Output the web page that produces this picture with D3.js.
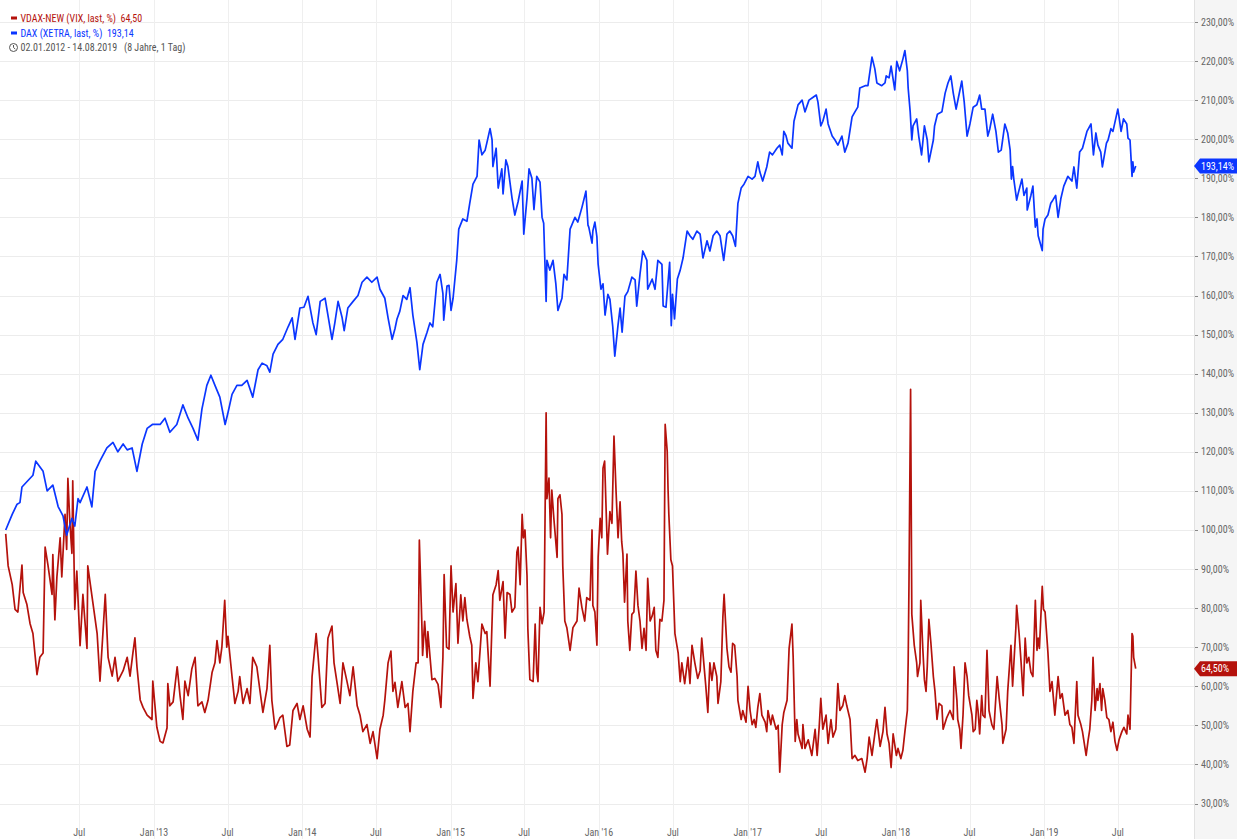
<!DOCTYPE html>
<html>
<head>
<meta charset="utf-8">
<script src="https://cdn.jsdelivr.net/npm/d3@7"></script>
<style>
    body { margin: 0; background: #fff; }
    svg { display: block; }
    text { font-family: 'Liberation Sans Narrow', 'Roboto Condensed', 'DejaVu Sans Condensed', 'Arial Narrow', Roboto, sans-serif; font-stretch: condensed; }
</style>
</head>
<body>
<div id="chart"></div>
<script>
// Series names and last values (legend)
const seriesNames = ["VDAX-NEW (VIX, last, %)", "DAX (XETRA, last, %)"];
const lastLabels = ["64,50", "193,14"];
const rangeLabel = "02.01.2012 - 14.08.2019   (8 Jahre, 1 Tag)";

// Right axis ticks (%)
const yTicks = [30, 40, 50, 60, 70, 80, 90, 100, 110, 120, 130, 140, 150, 160, 170, 180, 190, 200, 210, 220, 230];

// Bottom axis ticks
const xTicks = ["2012-07-01", "2013-01-01", "2013-07-01", "2014-01-01", "2014-07-01", "2015-01-01", "2015-07-01",
    "2016-01-01", "2016-07-01", "2017-01-01", "2017-07-01", "2018-01-01", "2018-07-01", "2019-01-01", "2019-07-01"];

// DAX (XETRA), % of 02.01.2012
const dax = [
    ["2012-01-02",100],["2012-01-18",104],["2012-01-30",106.6],["2012-02-06",107],["2012-02-11",111],["2012-03-09",114],["2012-03-16",117.6],["2012-04-03",115],["2012-04-13",110],["2012-04-27",111.5],
    ["2012-05-10",106],["2012-05-22",103.6],["2012-05-31",98.7],["2012-06-13",103],["2012-06-20",101],["2012-06-28",108],["2012-07-03",107],["2012-07-20",111],["2012-08-01",105.9],["2012-08-09",115],
    ["2012-08-21",117.7],["2012-09-07",121],["2012-09-22",122.4],["2012-10-04",120],["2012-10-17",122],["2012-10-27",120.5],["2012-11-08",121],["2012-11-20",115],["2012-12-03",122],["2012-12-15",126],
    ["2012-12-28",127],["2013-01-16",127],["2013-01-28",128.6],["2013-02-09",125],["2013-02-26",127],["2013-03-13",132],["2013-03-26",128.6],["2013-04-07",126],["2013-04-19",123],["2013-04-29",131],
    ["2013-05-11",137],["2013-05-21",139.6],["2013-05-31",137],["2013-06-12",134],["2013-06-25",127],["2013-07-02",130],["2013-07-12",134.7],["2013-07-24",137],["2013-08-05",137],["2013-08-18",138.3],
    ["2013-09-01",134],["2013-09-14",141],["2013-09-24",142.7],["2013-10-06",142],["2013-10-13",140.4],["2013-10-21",145],["2013-11-02",147.5],["2013-11-14",148.8],["2013-11-27",152],["2013-12-07",154.3],
    ["2013-12-14",148.8],["2013-12-26",156.8],["2014-01-05",157],["2014-01-15",159.8],["2014-01-27",153],["2014-02-04",150],["2014-02-14",158.5],["2014-02-26",159.3],["2014-03-05",155],["2014-03-15",148.8],
    ["2014-03-22",153],["2014-03-30",158.5],["2014-04-09",154.3],["2014-04-14",151],["2014-04-23",156.8],["2014-05-06",158.5],["2014-05-18",160],["2014-05-28",163.4],["2014-06-09",164.7],["2014-06-21",163.4],
    ["2014-07-04",164.7],["2014-07-11",161.6],["2014-07-23",159.3],["2014-07-31",154.3],["2014-08-10",148.8],["2014-08-17",151.5],["2014-08-22",154],["2014-08-29",156],["2014-09-06",160],["2014-09-15",159],
    ["2014-09-23",162],["2014-09-30",155],["2014-10-10",148],["2014-10-17",141],["2014-10-25",147.5],["2014-11-04",150.6],["2014-11-11",153],["2014-11-18",152],["2014-11-28",163.4],["2014-12-06",165.4],
    ["2014-12-13",160.5],["2014-12-15",153.7],["2014-12-23",162.4],["2014-12-28",162.6],["2015-01-02",156.2],["2015-01-07",159.3],["2015-01-16",169],["2015-01-21",177],["2015-01-31",179.6],["2015-02-10",179],
    ["2015-02-17",183.6],["2015-02-25",188.5],["2015-03-07",190.5],["2015-03-12",199.8],["2015-03-19",196],["2015-03-27",197.2],["2015-03-31",199],["2015-04-08",202.7],["2015-04-13",199.8],["2015-04-15",193],
    ["2015-04-23",197.7],["2015-04-28",187.5],["2015-05-07",192.4],["2015-05-10",186],["2015-05-17",194.7],["2015-05-22",193],["2015-06-01",185],["2015-06-08",180.6],["2015-06-16",184],["2015-06-26",189.3],
    ["2015-06-30",175.7],["2015-07-08",185],["2015-07-13",192.4],["2015-07-20",190],["2015-07-25",182],["2015-08-01",190.5],["2015-08-09",189],["2015-08-14",180],["2015-08-18",178.5],["2015-08-24",158.5],
    ["2015-08-26",169],["2015-09-02",166.5],["2015-09-10",169],["2015-09-17",162.9],["2015-09-22",156.2],["2015-10-02",159.3],["2015-10-07",165.4],["2015-10-14",164],["2015-10-22",177],["2015-11-03",180],
    ["2015-11-10",178.8],["2015-11-20",182.5],["2015-11-30",186.7],["2015-12-05",178],["2015-12-07",177.5],["2015-12-15",173.4],["2015-12-17",176.5],["2015-12-22",178.8],["2015-12-27",175],["2015-12-30",168],
    ["2016-01-06",161.6],["2016-01-11",163],["2016-01-16",155],["2016-01-23",160.3],["2016-01-28",159],["2016-02-04",152],["2016-02-09",144.5],["2016-02-17",152.5],["2016-02-22",156.8],["2016-02-27",150.6],
    ["2016-03-05",159.8],["2016-03-12",161],["2016-03-22",164.7],["2016-03-30",164],["2016-04-03",157.3],["2016-04-11",165.4],["2016-04-18",171.4],["2016-04-28",169],["2016-04-30",161.6],["2016-05-11",164.2],
    ["2016-05-18",161.6],["2016-05-25",169],["2016-06-04",168],["2016-06-07",157.3],["2016-06-14",157],["2016-06-23",168.5],["2016-06-27",152.3],["2016-06-30",160.3],["2016-07-05",154],["2016-07-12",164.2],
    ["2016-07-19",166.5],["2016-07-26",169.6],["2016-08-05",176.5],["2016-08-12",175.3],["2016-08-19",174.4],["2016-08-29",176.5],["2016-09-06",175.7],["2016-09-13",169.6],["2016-09-23",174],["2016-09-30",171.4],
    ["2016-10-08",175.3],["2016-10-17",176.5],["2016-10-25",175.3],["2016-11-03",169],["2016-11-11",175.7],["2016-11-18",176.5],["2016-11-25",175.3],["2016-12-02",172.6],["2016-12-08",183.6],["2016-12-16",187.5],
    ["2016-12-23",188.5],["2017-01-02",190.5],["2017-01-12",189.8],["2017-01-19",190.5],["2017-01-26",194.2],["2017-01-31",191.6],["2017-02-07",189.3],["2017-02-17",192.9],["2017-02-24",196.7],["2017-03-03",196],
    ["2017-03-14",197.7],["2017-03-21",198.5],["2017-03-27",196],["2017-03-31",202],["2017-04-05",201],["2017-04-10",199],["2017-04-20",197.7],["2017-04-25",204.6],["2017-05-05",208.8],["2017-05-15",210],
    ["2017-05-22",207],["2017-06-01",210],["2017-06-12",210.8],["2017-06-19",211.3],["2017-06-23",209.5],["2017-06-30",203.4],["2017-07-05",204.6],["2017-07-13",207.7],["2017-07-18",203.9],["2017-07-28",200.8],
    ["2017-08-04",199.8],["2017-08-11",198.5],["2017-08-21",200.8],["2017-08-28",196.7],["2017-09-05",199],["2017-09-15",205.7],["2017-09-22",207],["2017-09-29",208.2],["2017-10-04",213.1],["2017-10-17",213.7],
    ["2017-10-24",213.7],["2017-11-03",221],["2017-11-10",218],["2017-11-15",214.4],["2017-11-27",213.7],["2017-12-05",214.4],["2017-12-08",216.2],["2017-12-15",215.7],["2017-12-20",218.7],["2017-12-29",212.6],
    ["2018-01-03",219.9],["2018-01-10",217.5],["2018-01-18",220.5],["2018-01-23",222.7],["2018-01-29",217.5],["2018-01-31",213.1],["2018-02-05",207],["2018-02-09",199.8],["2018-02-12",203.4],["2018-02-21",205.2],
    ["2018-02-26",200.8],["2018-03-05",196],["2018-03-12",203.4],["2018-03-19",199.8],["2018-03-23",194.2],["2018-04-03",199.8],["2018-04-06",203.4],["2018-04-13",206.4],["2018-04-24",207],["2018-05-02",211.8],
    ["2018-05-09",214.4],["2018-05-16",216.2],["2018-05-22",211.8],["2018-05-29",207.7],["2018-06-04",210.8],["2018-06-12",214.9],["2018-06-18",209.5],["2018-06-25",200.8],["2018-07-02",203.9],["2018-07-10",208.2],
    ["2018-07-19",208.8],["2018-07-26",211.3],["2018-07-31",207.7],["2018-08-08",207.7],["2018-08-15",200.8],["2018-08-20",202.7],["2018-08-27",206.4],["2018-09-04",202],["2018-09-10",196.7],["2018-09-17",197.2],
    ["2018-09-26",203.9],["2018-10-03",201.6],["2018-10-09",197.2],["2018-10-12",189.8],["2018-10-15",193],["2018-10-18",189.8],["2018-10-25",184.4],["2018-10-29",186.2],["2018-11-07",189.8],["2018-11-12",185.6],
    ["2018-11-19",187.5],["2018-11-20",181.9],["2018-11-29",185.6],["2018-12-04",188],["2018-12-10",177.5],["2018-12-14",179.6],["2018-12-17",175.3],["2018-12-27",171.5],["2018-12-29",177],["2019-01-03",179.6],
    ["2019-01-10",180.6],["2019-01-17",183.6],["2019-01-22",184.4],["2019-01-29",185.6],["2019-02-04",180],["2019-02-11",184.9],["2019-02-18",188],["2019-02-28",190.5],["2019-03-10",189.3],["2019-03-15",192.9],
    ["2019-03-22",187.5],["2019-03-29",196.7],["2019-04-05",197.7],["2019-04-16",202],["2019-04-26",203.9],["2019-05-02",196],["2019-05-08",201.6],["2019-05-13",198.5],["2019-05-20",196.7],["2019-05-24",192.9],
    ["2019-06-03",199],["2019-06-07",199.8],["2019-06-14",202.7],["2019-06-19",202],["2019-07-01",207.7],["2019-07-04",205.7],["2019-07-09",202],["2019-07-15",205.2],["2019-07-23",203.9],["2019-07-26",200.3],
    ["2019-07-31",199.8],["2019-08-05",190.5],["2019-08-07",194.2],["2019-08-09",191.6],["2019-08-14",193.14]
];

// VDAX-NEW, % of 02.01.2012
const vdax = [
    ["2012-01-02",99],["2012-01-08",90.8],["2012-01-18",86],["2012-01-25",79.7],["2012-02-01",79],["2012-02-11",91],["2012-02-14",84],["2012-02-23",81],["2012-03-02",76],["2012-03-09",73.5],
    ["2012-03-19",63],["2012-03-26",67.4],["2012-04-03",68.5],["2012-04-08",95.6],["2012-04-15",91],["2012-04-25",83.5],["2012-04-27",93.7],["2012-05-02",77],["2012-05-07",88],["2012-05-15",98],
    ["2012-05-19",88],["2012-05-27",104],["2012-05-31",95],["2012-06-03",113.2],["2012-06-08",101.7],["2012-06-13",94],["2012-06-15",112.6],["2012-06-20",79.7],["2012-06-25",89.5],["2012-07-03",70.4],
    ["2012-07-10",83.5],["2012-07-20",69.7],["2012-07-22",90.8],["2012-08-04",81],["2012-08-14",73.5],["2012-08-21",61.3],["2012-09-03",83.5],["2012-09-10",67.4],["2012-09-20",62.6],["2012-09-27",67.4],
    ["2012-10-04",61.3],["2012-10-17",64],["2012-10-27",67.4],["2012-11-03",62.6],["2012-11-10",68.5],["2012-11-15",72.4],["2012-11-20",65],["2012-11-28",56.5],["2012-12-05",54.6],["2012-12-15",52.6],
    ["2012-12-27",51.5],["2012-12-29",61.3],["2013-01-08",49.5],["2013-01-16",45.9],["2013-01-23",45.5],["2013-02-02",49.3],["2013-02-04",60.7],["2013-02-09",55],["2013-02-17",56],["2013-02-27",65],
    ["2013-03-06",57.6],["2013-03-13",51.5],["2013-03-18",61.3],["2013-03-26",57.6],["2013-04-04",64.4],["2013-04-12",67.4],["2013-04-19",55],["2013-04-29",56],["2013-05-06",53.3],["2013-05-14",56.4],
    ["2013-05-24",63.6],["2013-05-31",66],["2013-06-05",71.7],["2013-06-12",66],["2013-06-17",70],["2013-06-24",82],["2013-06-29",70],["2013-07-02",72.8],["2013-07-12",62.5],["2013-07-19",55.6],
    ["2013-07-27",58.7],["2013-07-31",62.5],["2013-08-08",55.6],["2013-08-18",59.4],["2013-08-25",55.6],["2013-09-01",67.4],["2013-09-11",65],["2013-09-19",58.7],["2013-09-26",53.3],["2013-10-06",59.4],
    ["2013-10-13",70.5],["2013-10-18",56.4],["2013-10-26",49],["2013-11-07",52],["2013-11-14",52.6],["2013-11-24",44.6],["2013-12-01",45],["2013-12-09",53.8],["2013-12-19",55.6],["2013-12-26",51.5],
    ["2014-01-03",55],["2014-01-13",49],["2014-01-20",47],["2014-01-25",62.5],["2014-02-04",73.5],["2014-02-09",67.4],["2014-02-18",54.6],["2014-02-26",55.6],["2014-03-05",72.3],["2014-03-15",75.4],
    ["2014-03-20",66],["2014-03-27",61.2],["2014-04-04",55.6],["2014-04-11",66],["2014-04-21",61.2],["2014-04-28",57.6],["2014-05-06",65],["2014-05-16",55],["2014-05-23",52.6],["2014-05-30",48.4],
    ["2014-06-09",50.2],["2014-06-17",45.4],["2014-06-24",48.4],["2014-07-04",41.5],["2014-07-11",49],["2014-07-19",52.6],["2014-07-23",56.4],["2014-07-31",66],["2014-08-07",69],["2014-08-12",58.7],
    ["2014-08-17",61],["2014-08-24",54.6],["2014-09-03",61.2],["2014-09-11",54.6],["2014-09-18",55.6],["2014-09-23",48.4],["2014-09-30",58.7],["2014-10-08",66],["2014-10-13",66],["2014-10-16",97.4],
    ["2014-10-22",76.6],["2014-10-24",67.9],["2014-10-29",76.6],["2014-11-04",67.4],["2014-11-06",74],["2014-11-16",61.7],["2014-11-23",62],["2014-12-01",60.5],["2014-12-08",54.6],["2014-12-13",67.4],
    ["2014-12-16",88.6],["2014-12-22",70],["2014-12-28",69.5],["2015-01-02",90.8],["2015-01-07",79],["2015-01-14",86.3],["2015-01-19",71],["2015-01-26",83.4],["2015-01-31",76.7],["2015-02-05",82.7],
    ["2015-02-10",77.1],["2015-02-17",72.8],["2015-02-22",70.5],["2015-02-25",56.9],["2015-03-04",66],["2015-03-09",61.2],["2015-03-19",75.9],["2015-03-27",73.5],["2015-03-31",74],["2015-04-08",60],
    ["2015-04-15",83.4],["2015-04-23",86],["2015-04-28",89.6],["2015-05-02",82],["2015-05-10",86.8],["2015-05-15",72.3],["2015-05-20",84],["2015-05-27",83.5],["2015-06-01",79],["2015-06-08",80.2],
    ["2015-06-13",94.3],["2015-06-16",95.6],["2015-06-21",86],["2015-06-26",104],["2015-06-29",98],["2015-07-03",100],["2015-07-08",88.2],["2015-07-10",74.8],["2015-07-15",61.7],["2015-07-23",61.2],
    ["2015-07-28",75.9],["2015-08-01",63.6],["2015-08-04",61.2],["2015-08-09",80.2],["2015-08-14",76],["2015-08-19",79],["2015-08-24",130],["2015-08-25",117.8],["2015-08-26",108],["2015-08-31",113.3],
    ["2015-09-04",98],["2015-09-07",110.2],["2015-09-12",103],["2015-09-20",93],["2015-09-22",108],["2015-09-27",109],["2015-10-02",104],["2015-10-04",90.8],["2015-10-09",76.7],["2015-10-14",75],
    ["2015-10-22",69.2],["2015-10-29",75],["2015-11-08",76.7],["2015-11-13",85.1],["2015-11-20",80.2],["2015-11-27",76.7],["2015-12-02",82.7],["2015-12-10",82],["2015-12-15",100],["2015-12-17",80.7],
    ["2015-12-22",79],["2015-12-27",70.5],["2015-12-30",93],["2016-01-04",103],["2016-01-08",98],["2016-01-11",115.8],["2016-01-15",117.6],["2016-01-21",97.4],["2016-01-22",93.8],["2016-01-28",104.7],
    ["2016-02-02",101.7],["2016-02-07",124],["2016-02-12",110.2],["2016-02-17",98],["2016-02-22",107.2],["2016-02-26",97],["2016-02-29",93.8],["2016-03-04",81.5],["2016-03-10",93.8],["2016-03-12",76.7],
    ["2016-03-17",69.2],["2016-03-22",78.4],["2016-03-27",79],["2016-04-01",89.5],["2016-04-06",80.7],["2016-04-11",76.7],["2016-04-16",69.7],["2016-04-21",74.8],["2016-04-26",69.2],["2016-04-30",87.6],
    ["2016-05-06",76.7],["2016-05-11",78],["2016-05-16",80.2],["2016-05-20",69.2],["2016-05-25",67.4],["2016-05-30",77.1],["2016-06-04",76.7],["2016-06-09",82],["2016-06-12",127],["2016-06-17",120.1],
    ["2016-06-19",110.7],["2016-06-21",104],["2016-06-26",92.4],["2016-06-30",90.8],["2016-07-06",73.5],["2016-07-14",68.5],["2016-07-19",61.2],["2016-07-23",66],["2016-07-30",60.7],["2016-08-07",67.4],
    ["2016-08-12",60.7],["2016-08-17",70.5],["2016-08-24",66],["2016-08-31",62],["2016-09-06",64],["2016-09-10",72.3],["2016-09-15",66],["2016-09-20",60],["2016-09-25",53.3],["2016-09-30",66],
    ["2016-10-05",61.5],["2016-10-10",66],["2016-10-17",62.5],["2016-10-20",55.6],["2016-10-27",61.2],["2016-11-01",77.7],["2016-11-04",83.5],["2016-11-11",69.7],["2016-11-16",65],["2016-11-21",63.6],
    ["2016-11-25",71],["2016-11-30",70.5],["2016-12-06",62.5],["2016-12-08",56.4],["2016-12-16",51.5],["2016-12-20",53.8],["2016-12-28",50.8],["2017-01-02",60],["2017-01-07",53.8],["2017-01-12",50.2],
    ["2017-01-17",51.5],["2017-01-21",49.5],["2017-01-26",54.6],["2017-01-31",58.1],["2017-02-05",52.6],["2017-02-13",50.8],["2017-02-17",48.4],["2017-02-20",53.8],["2017-02-27",50.2],["2017-03-03",52.6],
    ["2017-03-12",49],["2017-03-17",50],["2017-03-21",38],["2017-03-27",50.2],["2017-03-31",53.3],["2017-04-08",56.4],["2017-04-13",69.7],["2017-04-20",75.9],["2017-04-23",67.4],["2017-04-28",45.9],
    ["2017-05-02",51.5],["2017-05-05",47.8],["2017-05-15",44.1],["2017-05-17",50.2],["2017-05-22",44.1],["2017-05-30",46.3],["2017-06-08",42.3],["2017-06-16",49],["2017-06-21",42.3],["2017-06-26",49.5],
    ["2017-06-30",56.9],["2017-07-05",49],["2017-07-13",52.6],["2017-07-18",45.4],["2017-07-25",51.5],["2017-07-30",47],["2017-08-06",49],["2017-08-11",60.7],["2017-08-16",53.8],["2017-08-23",55],
    ["2017-08-28",57.6],["2017-09-02",55],["2017-09-10",51.5],["2017-09-15",41.5],["2017-09-22",42.3],["2017-09-29",41],["2017-10-09",41.5],["2017-10-17",38],["2017-10-22",41.5],["2017-10-27",47],
    ["2017-11-03",42.3],["2017-11-10",47.8],["2017-11-15",51.5],["2017-11-23",44.6],["2017-11-30",48.4],["2017-12-05",54.6],["2017-12-10",47.8],["2017-12-15",45.4],["2017-12-20",39.2],["2017-12-25",47.8],
    ["2018-01-02",42.3],["2018-01-06",44.1],["2018-01-13",41.5],["2018-01-18",43.6],["2018-01-23",48.4],["2018-01-29",53.8],["2018-01-31",66],["2018-02-02",86],["2018-02-06",136],["2018-02-09",78.4],
    ["2018-02-15",70.5],["2018-02-21",66],["2018-02-23",62.5],["2018-03-01",66],["2018-03-03",82],["2018-03-08",69.7],["2018-03-12",61.7],["2018-03-16",58.7],["2018-03-19",65],["2018-03-23",77.1],
    ["2018-03-28",71],["2018-04-03",62.5],["2018-04-07",58.7],["2018-04-12",51.5],["2018-04-17",55.6],["2018-04-24",55],["2018-04-27",49],["2018-05-06",52],["2018-05-14",53.8],["2018-05-22",51.5],
    ["2018-05-24",65],["2018-05-31",56.4],["2018-06-02",51.5],["2018-06-07",49],["2018-06-10",44.1],["2018-06-15",52.6],["2018-06-20",66],["2018-06-25",62.5],["2018-06-29",57.6],["2018-07-07",52.6],
    ["2018-07-10",48.4],["2018-07-15",49],["2018-07-19",56.4],["2018-07-22",53.8],["2018-07-26",47.8],["2018-07-31",57.6],["2018-08-03",52.6],["2018-08-08",52],["2018-08-13",69.2],["2018-08-18",53.8],
    ["2018-08-25",50.2],["2018-08-30",49],["2018-09-07",62.5],["2018-09-12",56.9],["2018-09-19",50.2],["2018-09-21",45.4],["2018-09-29",49],["2018-10-03",58.7],["2018-10-11",70.5],["2018-10-15",60],
    ["2018-10-23",74.8],["2018-10-25",80.7],["2018-10-31",73.5],["2018-11-05",66],["2018-11-10",57.6],["2018-11-15",72.3],["2018-11-19",66],["2018-11-24",67.4],["2018-11-29",63.6],["2018-12-04",62.5],
    ["2018-12-10",82],["2018-12-14",69.2],["2018-12-17",72.3],["2018-12-20",69.7],["2018-12-27",85.6],["2018-12-30",79.7],["2019-01-03",79],["2019-01-10",68.6],["2019-01-15",58.7],["2019-01-20",61.2],
    ["2019-01-27",52.6],["2019-02-04",62.5],["2019-02-09",56.9],["2019-02-14",58.1],["2019-02-21",52.6],["2019-02-28",53.8],["2019-03-05",50.2],["2019-03-10",49.5],["2019-03-15",45.4],["2019-03-22",61.2],
    ["2019-03-25",52.6],["2019-04-01",50.2],["2019-04-05",48.4],["2019-04-14",42.3],["2019-04-19",46.3],["2019-04-23",49],["2019-04-28",56.4],["2019-05-01",67.4],["2019-05-06",53.8],["2019-05-11",59.4],
    ["2019-05-13",56.4],["2019-05-18",60.7],["2019-05-22",53.8],["2019-05-25",59.4],["2019-05-30",56.4],["2019-06-04",52],["2019-06-09",51.5],["2019-06-14",48.4],["2019-06-19",50.8],["2019-06-24",45.9],
    ["2019-06-29",43.6],["2019-07-04",46.3],["2019-07-11",48.4],["2019-07-16",49.5],["2019-07-23",47.8],["2019-07-26",52.6],["2019-07-31",49],["2019-08-05",73.5],["2019-08-07",72.8],["2019-08-09",67.4],
    ["2019-08-14",64.5]
];

const colors = { vdax: "#b5120c", dax: "#0b36ff" };

const width = 1237, height = 839;
const plotRight = 1194;

const parseDate = d3.timeParse("%Y-%m-%d");
const daxData = dax.map(d => ({ date: parseDate(d[0]), value: d[1] }));
const vdaxData = vdax.map(d => ({ date: parseDate(d[0]), value: d[1] }));

// Scales
const x = d3.scaleTime()
    .domain([parseDate("2012-01-01"), parseDate("2019-08-14")])
    .range([5.3, 1135.7]);
const y = d3.scaleLinear().domain([30, 230]).range([803.5, 22]);

const svg = d3.select("#chart")
    .append("svg")
    .attr("width", width)
    .attr("height", height);

// Horizontal grid
svg.append("g")
    .selectAll("line")
    .data(yTicks)
    .enter().append("line")
    .attr("x1", 0)
    .attr("x2", plotRight)
    .attr("y1", d => Math.round(y(d)) + 0.5)
    .attr("y2", d => Math.round(y(d)) + 0.5)
    .attr("stroke", "#ececec");

// Vertical grid
svg.append("g")
    .selectAll("line")
    .data(xTicks.map(parseDate))
    .enter().append("line")
    .attr("x1", d => Math.round(x(d)) + 0.5)
    .attr("x2", d => Math.round(x(d)) + 0.5)
    .attr("y1", 0)
    .attr("y2", height)
    .attr("stroke", "#efefef");

// Bottom labels
const fmtJan = d3.timeFormat("Jan '%y");
svg.append("g")
    .selectAll("text")
    .data(xTicks.map(parseDate))
    .enter().append("text")
    .attr("x", d => x(d))
    .attr("y", 836)
    .attr("text-anchor", "middle")
    .attr("fill", "#666")
    .style("font-size", "10px")
    .text(d => d.getMonth() === 0 ? fmtJan(d) : "Jul");

// Right axis panel
svg.append("rect")
    .attr("x", plotRight)
    .attr("y", 0)
    .attr("width", width - plotRight)
    .attr("height", height)
    .attr("fill", "#f5f5f5");
svg.append("line")
    .attr("x1", plotRight + 0.5)
    .attr("x2", plotRight + 0.5)
    .attr("y1", 0)
    .attr("y2", height)
    .attr("stroke", "#e2e2e2");

const pct = d3.formatLocale({ decimal: ",", thousands: ".", grouping: [3], currency: ["", "€"] }).format(".2f");

const yAxis = svg.append("g");
yAxis.selectAll("line")
    .data(yTicks)
    .enter().append("line")
    .attr("x1", plotRight + 1)
    .attr("x2", plotRight + 4)
    .attr("y1", d => Math.round(y(d)) + 0.5)
    .attr("y2", d => Math.round(y(d)) + 0.5)
    .attr("stroke", "#888");
yAxis.selectAll("text")
    .data(yTicks)
    .enter().append("text")
    .attr("x", plotRight + 7)
    .attr("y", d => y(d))
    .attr("dy", "0.35em")
    .attr("fill", "#666")
    .style("font-size", "10px")
    .text(d => pct(d) + "%");

// Lines
const line = d3.line()
    .x(d => x(d.date))
    .y(d => y(d.value));

svg.append("path")
    .datum(vdaxData)
    .attr("fill", "none")
    .attr("stroke", colors.vdax)
    .attr("stroke-width", 1.7)
    .attr("stroke-linejoin", "round")
    .attr("d", line);

svg.append("path")
    .datum(daxData)
    .attr("fill", "none")
    .attr("stroke", colors.dax)
    .attr("stroke-width", 1.7)
    .attr("stroke-linejoin", "round")
    .attr("d", line);

// Last value flags
function flag(value, color) {
    const cy = y(value);
    const g = svg.append("g");
    g.append("path")
        .attr("d", `M${plotRight},${cy} L${plotRight + 6},${cy - 7.5} L${width},${cy - 7.5} L${width},${cy + 7.5} L${plotRight + 6},${cy + 7.5} Z`)
        .attr("fill", color);
    g.append("text")
        .attr("x", plotRight + 7)
        .attr("y", cy)
        .attr("dy", "0.35em")
        .attr("fill", "#fff")
        .style("font-size", "10px")
        .text(pct(value) + "%");
}
flag(daxData[daxData.length - 1].value, colors.dax);
flag(vdaxData[vdaxData.length - 1].value, colors.vdax);

// Legend
const legend = svg.append("g");
[[seriesNames[0], lastLabels[0], colors.vdax, 18], [seriesNames[1], lastLabels[1], colors.dax, 33]].forEach(([name, last, color, cy]) => {
    legend.append("rect")
        .attr("x", 11).attr("y", cy - 1.5)
        .attr("width", 6).attr("height", 3)
        .attr("fill", color);
    legend.append("text")
        .attr("x", 20.5)
        .attr("y", cy)
        .attr("dy", "0.35em")
        .attr("fill", color)
        .style("font-size", "10px")
        .attr("xml:space", "preserve")
        .text(name + "  " + last);
});

// Clock icon and time range
const clock = legend.append("g").attr("transform", "translate(13.5,47.5)");
clock.append("circle").attr("r", 4).attr("fill", "none").attr("stroke", "#555").attr("stroke-width", 1);
clock.append("path").attr("d", "M0,-2.5 L0,0 L1.8,1.6").attr("fill", "none").attr("stroke", "#555").attr("stroke-width", 1);
legend.append("text")
    .attr("x", 20.5)
    .attr("y", 47.5)
    .attr("dy", "0.35em")
    .attr("fill", "#555")
    .style("font-size", "10px")
    .attr("xml:space", "preserve")
    .text(rangeLabel);
</script>
</body>
</html>
